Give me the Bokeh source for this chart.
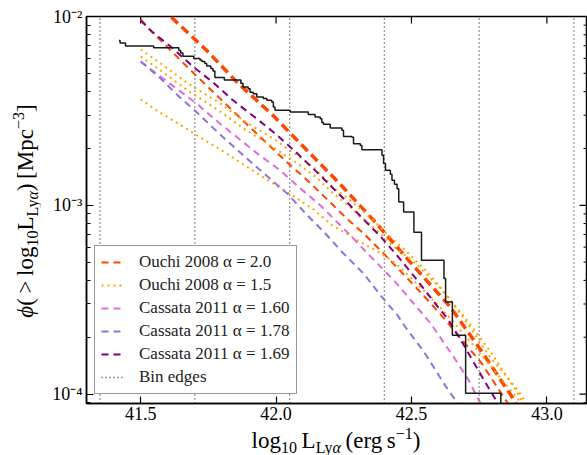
import numpy as np
from bokeh.plotting import figure
from bokeh.models import Range1d, FixedTicker, Legend, LegendItem, Div
from bokeh.layouts import row, column
from bokeh.embed import file_html
from bokeh.resources import INLINE

# ---------------- data ----------------
bin_edges = [41.35, 41.70, 42.05, 42.40, 42.75, 43.10]
x_ticks = [41.5, 42.0, 42.5, 43.0]
x_tick_labels = ["41.5", "42.0", "42.5", "43.0"]
y_ticks = [1e-4, 1e-3, 1e-2]
y_tick_labels = ["10\u207b\u2074", "10\u207b\u00b3", "10\u207b\u00b2"]

# observed cumulative number density (step), log10 L and log10 phi
step_logL = [41.420, 41.424, 41.444, 41.548, 41.641, 41.648, 41.656, 41.696, 41.719, 41.726,
             41.737, 41.744, 41.759, 41.767, 41.774, 41.809, 41.870, 41.878, 41.897, 41.904,
             41.916, 41.929, 41.953, 41.966, 41.984, 41.990, 41.996, 42.052, 42.119, 42.144,
             42.163, 42.169, 42.175, 42.200, 42.243, 42.249, 42.280, 42.286, 42.311, 42.317,
             42.391, 42.397, 42.404, 42.422, 42.428, 42.437, 42.447, 42.453, 42.471, 42.509,
             42.537, 42.620, 42.626, 42.651, 42.700, 42.830]
step_logphi = [-2.127, -2.140, -2.156, -2.166, -2.180, -2.193, -2.210, -2.222, -2.230, -2.238,
               -2.249, -2.262, -2.275, -2.289, -2.323, -2.336, -2.354, -2.374, -2.383, -2.401,
               -2.409, -2.427, -2.435, -2.444, -2.453, -2.480, -2.497, -2.506, -2.519, -2.533,
               -2.541, -2.561, -2.571, -2.590, -2.603, -2.635, -2.640, -2.674, -2.683, -2.706,
               -2.735, -2.779, -2.815, -2.836, -2.868, -2.889, -2.912, -2.983, -3.035, -3.143,
               -3.291, -3.388, -3.513, -3.688, -3.996, -4.200]

# Ouchi 2008, alpha = 2.0 (two curves)
ouchi20a_logL = [41.500, 41.626, 41.744, 41.856, 41.989, 42.089, 42.230, 42.367, 42.496,
                 42.644, 42.756, 42.874, 42.904]
ouchi20a_logphi = [-1.852, -2.021, -2.180, -2.349, -2.524, -2.672, -2.878, -3.090, -3.302,
                   -3.540, -3.767, -4.021, -4.095]
ouchi20b_logL = [41.500, 41.533, 41.600, 41.674, 41.781, 41.885, 42.033, 42.107, 42.181, 42.256,
                 42.330, 42.396, 42.467, 42.533, 42.626, 42.656, 42.756, 42.848, 42.874]
ouchi20b_logphi = [-2.016, -2.069, -2.164, -2.270, -2.418, -2.561, -2.762, -2.857, -2.958, -3.063,
                   -3.159, -3.254, -3.360, -3.460, -3.608, -3.661, -3.831, -4.032, -4.095]

# Ouchi 2008, alpha = 1.5 (three curves)
ouchi15a_logL = [41.500, 41.574, 41.674, 41.793, 41.885, 41.989, 42.063, 42.144, 42.211, 42.274,
                 42.359, 42.422, 42.470, 42.552, 42.626, 42.711, 42.793, 42.841, 42.893, 42.922,
                 42.941]
ouchi15a_logphi = [-2.175, -2.249, -2.354, -2.460, -2.556, -2.646, -2.720, -2.804, -2.905, -2.974,
                   -3.079, -3.169, -3.228, -3.344, -3.466, -3.635, -3.810, -3.889, -3.979, -4.048,
                   -4.095]
ouchi15b_logL = [41.500, 41.574, 41.674, 41.793, 41.885, 41.989, 42.063, 42.144, 42.211, 42.274,
                 42.359, 42.433, 42.515, 42.607, 42.711, 42.793, 42.848, 42.896, 42.915, 42.933]
ouchi15b_logphi = [-2.212, -2.286, -2.392, -2.503, -2.598, -2.693, -2.762, -2.847, -2.937, -3.011,
                   -3.116, -3.217, -3.307, -3.439, -3.619, -3.778, -3.899, -4.005, -4.058, -4.101]
ouchi15c_logL = [41.500, 41.570, 41.644, 41.719, 41.793, 41.867, 41.941, 42.041, 42.133, 42.207,
                 42.300, 42.385, 42.441, 42.533, 42.626, 42.719, 42.811, 42.896, 42.922]
ouchi15c_logphi = [-2.439, -2.508, -2.571, -2.640, -2.704, -2.772, -2.841, -2.931, -3.016, -3.106,
                   -3.185, -3.254, -3.307, -3.434, -3.571, -3.725, -3.884, -4.032, -4.095]

# Cassata 2011
cas160_logL = [41.500, 41.578, 41.656, 41.711, 41.774, 41.856, 41.930, 42.015, 42.089, 42.163,
               42.267, 42.337, 42.441, 42.504, 42.570, 42.656, 42.711, 42.748, 42.774]
cas160_logphi = [-2.238, -2.323, -2.407, -2.466, -2.545, -2.640, -2.725, -2.815, -2.910, -3.000,
                 -3.148, -3.254, -3.407, -3.513, -3.624, -3.804, -3.926, -4.032, -4.085]
cas178_logL = [41.500, 41.570, 41.637, 41.711, 41.785, 41.859, 41.933, 42.041, 42.115, 42.181,
               42.248, 42.322, 42.385, 42.448, 42.478, 42.544, 42.589, 42.626, 42.670, 42.689]
cas178_logphi = [-2.238, -2.323, -2.418, -2.513, -2.614, -2.709, -2.804, -2.937, -3.053, -3.148,
                 -3.254, -3.360, -3.476, -3.582, -3.646, -3.772, -3.873, -3.958, -4.048, -4.095]
cas169_logL = [41.500, 41.541, 41.615, 41.693, 41.767, 41.841, 41.922, 41.996, 42.070, 42.144,
               42.248, 42.319, 42.385, 42.452, 42.515, 42.578, 42.637, 42.689, 42.763, 42.819,
               42.837]
cas169_logphi = [-2.021, -2.079, -2.164, -2.265, -2.349, -2.444, -2.534, -2.619, -2.714, -2.815,
                 -2.963, -3.069, -3.164, -3.275, -3.386, -3.503, -3.608, -3.730, -3.915, -4.048,
                 -4.095]

legend_labels = ["Ouchi 2008 \u03b1 = 2.0", "Ouchi 2008 \u03b1 = 1.5",
                 "Cassata 2011 \u03b1 = 1.60", "Cassata 2011 \u03b1 = 1.78",
                 "Cassata 2011 \u03b1 = 1.69", "Bin edges"]

# ---------------- figure ----------------
X0, X1 = 41.3, 43.15
LY0, LY1 = -4.05, -2.0
YLAB_W = 40            # width of the y-label strip
XLAB_H = 28            # height of the x-label strip
P_W, P_H = 587 - YLAB_W, 455 - XLAB_H
FL, FR, FT, FB = 86 - YLAB_W, P_W, 16, 403   # frame edges inside the figure canvas
SERIF = "Liberation Serif"

p = figure(width=P_W, height=P_H, x_range=Range1d(X0, X1),
           y_range=Range1d(10 ** LY0, 10 ** LY1), y_axis_type="log",
           output_backend="svg", toolbar_location=None,
           min_border_left=FL, min_border_right=0, min_border_top=FT,
           min_border_bottom=P_H - FB, margin=0)
p.grid.visible = False
p.background_fill_color = "white"
p.border_fill_color = "white"
p.outline_line_color = "black"
p.outline_line_width = 1.5

minor = [k * 10.0 ** e for e in (-5, -4, -3) for k in range(2, 10)]

p.xaxis.ticker = FixedTicker(ticks=x_ticks)
p.xaxis.major_label_overrides = dict(zip(x_ticks, x_tick_labels))
p.yaxis.ticker = FixedTicker(ticks=y_ticks, minor_ticks=minor)
p.yaxis.major_label_overrides = dict(zip(y_ticks, y_tick_labels))
for ax in (p.xaxis[0], p.yaxis[0]):
    ax.major_label_text_font = SERIF
    ax.major_label_text_font_size = "18px"
    ax.major_label_text_color = "black"
    ax.major_tick_in = 7
    ax.major_tick_out = 0
    ax.minor_tick_in = 4
    ax.minor_tick_out = 0
    ax.major_tick_line_color = "black"
    ax.minor_tick_line_color = "black"
    ax.major_tick_line_width = 1.2
    ax.axis_line_color = "black"
    ax.axis_line_width = 1.5
p.xaxis.minor_tick_line_color = None
p.xaxis.major_label_standoff = 3
p.yaxis.major_label_standoff = 4

# inward ticks on the top and right frame edges (positions from the same tick arrays)
def ypx_to_log(dpx):
    return dpx / (FB - FT) * (LY1 - LY0)

def xpx_to_data(dpx):
    return dpx / (FR - FL) * (X1 - X0)

p.segment(x0=x_ticks, x1=x_ticks, y0=[10 ** LY1] * len(x_ticks),
          y1=[10 ** (LY1 - ypx_to_log(7))] * len(x_ticks), line_color="black", line_width=1.2)
p.segment(x0=[X1] * len(y_ticks), x1=[X1 - xpx_to_data(8)] * len(y_ticks),
          y0=y_ticks, y1=y_ticks, line_color="black", line_width=1.2)
right_minor = [t for t in minor if 10 ** LY0 < t < 10 ** LY1]
p.segment(x0=[X1] * len(right_minor), x1=[X1 - xpx_to_data(4)] * len(right_minor),
          y0=right_minor, y1=right_minor, line_color="black", line_width=1)

# bin edges
bin_r = p.segment(x0=bin_edges, x1=bin_edges, y0=[10 ** LY0] * len(bin_edges),
                  y1=[10 ** LY1] * len(bin_edges), line_color="#333333", line_width=1.3,
                  line_dash="1 3")

def phi(a):
    return 10 ** np.asarray(a)

# model curves
r20a = p.line(ouchi20a_logL, phi(ouchi20a_logphi), line_color="#FF4500", line_width=3.5,
              line_dash="9 5")
r20b = p.line(ouchi20b_logL, phi(ouchi20b_logphi), line_color="#FF4500", line_width=2,
              line_dash="7 5")
r15a = p.line(ouchi15a_logL, phi(ouchi15a_logphi), line_color="#FFA500", line_width=2,
              line_dash="2 4")
r15b = p.line(ouchi15b_logL, phi(ouchi15b_logphi), line_color="#FFA500", line_width=2,
              line_dash="2 4")
r15c = p.line(ouchi15c_logL, phi(ouchi15c_logphi), line_color="#FFA500", line_width=2,
              line_dash="2 4")
r160 = p.line(cas160_logL, phi(cas160_logphi), line_color="#DA70D6", line_width=2,
              line_dash="7 5")
r178 = p.line(cas178_logL, phi(cas178_logphi), line_color="#9370DB", line_width=2,
              line_dash="7 5")
r169 = p.line(cas169_logL, phi(cas169_logphi), line_color="#800080", line_width=2,
              line_dash="7 5")

# observed step
p.step(step_logL, phi(step_logphi), mode="after", line_color="#1a1a1a", line_width=1.5)

legend = Legend(items=[LegendItem(label=legend_labels[0], renderers=[r20b]),
                       LegendItem(label=legend_labels[1], renderers=[r15a]),
                       LegendItem(label=legend_labels[2], renderers=[r160]),
                       LegendItem(label=legend_labels[3], renderers=[r178]),
                       LegendItem(label=legend_labels[4], renderers=[r169]),
                       LegendItem(label=legend_labels[5], renderers=[bin_r])],
                location=(8, 9))
legend.label_text_font = SERIF
legend.label_text_font_size = "17px"
legend.label_text_color = "#222222"
legend.glyph_width = 22
legend.glyph_height = 20
legend.label_height = 20
legend.label_standoff = 16
legend.spacing = 3
legend.padding = 6
legend.margin = 0
legend.border_line_color = "#333333"
legend.border_line_width = 1.5
legend.background_fill_color = "white"
legend.background_fill_alpha = 1
p.add_layout(legend, "center")

# ---------------- axis labels (rich text: sub/superscripts) ----------------
def font_css(size):
    return (f"font-family:'Liberation Serif',serif;font-size:{size}px;color:black;"
            f"white-space:nowrap;line-height:{size + 4}px;")

def sub(size, shift):
    return f"font-size:{size}px;vertical-align:{shift}px;line-height:0;"

xlabel_html = (
    f'<div style="position:relative;width:587px;height:{XLAB_H}px;">'
    f'<span style="position:absolute;left:336px;top:0px;transform:translateX(-50%);{font_css(23)}">'
    f'log<span style="{sub(16, -5)}">10</span>\u2009L<span style="{sub(16, -5)}">Ly<i>\u03b1</i></span>'
    f'\u2009(erg\u2009s<span style="{sub(16, 9)}">\u22121</span>)</span></div>'
)
ylabel_html = (
    f'<div style="position:relative;width:{YLAB_W}px;height:{P_H}px;">'
    f'<span style="position:absolute;left:25px;top:211px;'
    f'transform:translate(-50%,-50%) rotate(-90deg);{font_css(23)}">'
    f'<i>\u03d5</i>(\u2009&gt;\u2009log<span style="{sub(16, -5)}">10</span>L'
    f'<span style="{sub(16, -5)}">Ly<i>\u03b1</i></span>)'
    f'\u2009[Mpc<span style="{sub(16, 9)}">\u22123</span>]</span></div>'
)
xdiv = Div(text=xlabel_html, width=587, height=XLAB_H, margin=0)
ydiv = Div(text=ylabel_html, width=YLAB_W, height=P_H, margin=0)

layout = column(row(ydiv, p, spacing=0, margin=0), xdiv, spacing=0, margin=0)

open("out.html", "w").write(file_html(layout, INLINE))
